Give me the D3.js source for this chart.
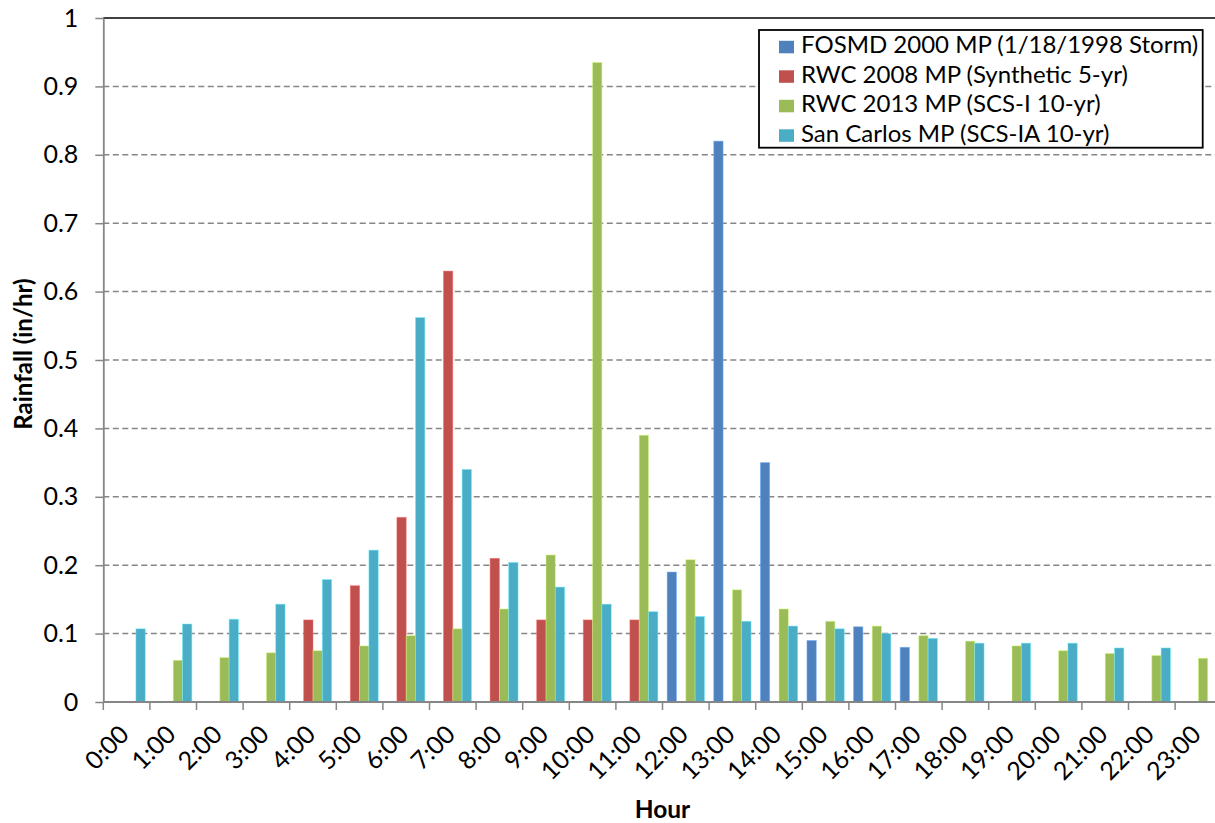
<!DOCTYPE html>
<html>
<head>
<meta charset="utf-8">
<script src="https://cdn.jsdelivr.net/npm/d3@7"></script>
<style>
  html, body { margin: 0; padding: 0; background: #fff; }
  svg { display: block; font-family: Lato, "Open Sans", sans-serif; }
</style>
</head>
<body>
<svg id="chart" width="1215" height="823"></svg>
<script>
// ---- data ----
const hours = ["0:00","1:00","2:00","3:00","4:00","5:00","6:00","7:00","8:00","9:00","10:00","11:00",
               "12:00","13:00","14:00","15:00","16:00","17:00","18:00","19:00","20:00","21:00","22:00","23:00"];
const seriesNames = ["FOSMD 2000 MP (1/18/1998 Storm)", "RWC 2008 MP (Synthetic 5-yr)",
                     "RWC 2013 MP (SCS-I 10-yr)", "San Carlos MP (SCS-IA 10-yr)"];
const seriesColors = ["#4F81BD", "#C0504D", "#9BBB59", "#4BACC6"];
const fosmd = [null,null,null,null,null,null,null,null,null,null,null,null,
               0.19,0.82,0.35,0.09,0.11,0.08,null,null,null,null,null,null];
const rwc2008 = [null,null,null,null,0.12,0.17,0.27,0.63,0.21,0.12,0.12,0.12,
                 null,null,null,null,null,null,null,null,null,null,null,null];
const rwc2013 = [null,0.061,0.065,0.072,0.075,0.082,0.097,0.107,0.136,0.215,0.935,0.39,
                 0.208,0.164,0.136,0.118,0.111,0.097,0.089,0.082,0.075,0.071,0.068,0.064];
const sanCarlos = [0.107,0.114,0.121,0.143,0.179,0.222,0.562,0.34,0.204,0.168,0.143,0.132,
                   0.125,0.118,0.111,0.107,0.100,0.093,0.086,0.086,0.086,0.079,0.079,null];
const yTicks = [0, 0.1, 0.2, 0.3, 0.4, 0.5, 0.6, 0.7, 0.8, 0.9, 1];
const yTitle = "Rainfall (in/hr)";
const xTitle = "Hour";

const allSeries = [fosmd, rwc2008, rwc2013, sanCarlos];

// ---- layout ----
const svg = d3.select("#chart");
const plot = { left: 103.3, right: 1221.7, top: 18, bottom: 702 };
const axisColor = "#868686";
const tickFont = 25, legendFont = 24, titleFont = 24;

const x = d3.scaleBand().domain(hours).range([plot.left, plot.right]).paddingInner(0).paddingOuter(0);
const xs = d3.scaleBand().domain(d3.range(seriesNames.length)).range([0, x.bandwidth()])
  .paddingInner(0).paddingOuter(0.5);
const y = d3.scaleLinear().domain([0, 1]).range([plot.bottom, plot.top]);

// gridlines
svg.append("g").selectAll("line")
  .data(yTicks.filter(d => d > 0 && d < 1))
  .join("line")
  .attr("x1", plot.left).attr("x2", plot.right)
  .attr("y1", d => y(d)).attr("y2", d => y(d))
  .attr("stroke", axisColor).attr("stroke-width", 1.5)
  .attr("stroke-dasharray", "6,3.5");

// top border line
svg.append("line")
  .attr("x1", plot.left).attr("x2", plot.right)
  .attr("y1", y(1)).attr("y2", y(1))
  .attr("stroke", "#000").attr("stroke-width", 1.5);

// bars
const barData = [];
allSeries.forEach((vals, si) => {
  vals.forEach((v, hi) => { if (v != null) barData.push({ si, h: hours[hi], v }); });
});
svg.append("g").selectAll("rect")
  .data(barData)
  .join("rect")
  .attr("x", d => x(d.h) + xs(d.si))
  .attr("width", xs.bandwidth())
  .attr("y", d => y(d.v))
  .attr("height", d => y(0) - y(d.v))
  .attr("fill", d => seriesColors[d.si])
  .attr("stroke", d => d3.color(seriesColors[d.si]).brighter(0.9))
  .attr("stroke-opacity", 0.6)
  .attr("stroke-width", 0.8);

// y axis
const yAxis = d3.axisLeft(y).tickValues(yTicks).tickSize(8).tickSizeOuter(0)
  .tickPadding(17).tickFormat(d3.format("~g"));
const gy = svg.append("g").attr("transform", `translate(${plot.left},0)`).call(yAxis);
gy.select(".domain").attr("stroke", axisColor).attr("stroke-width", 1.8);
gy.selectAll(".tick line").attr("stroke", axisColor).attr("stroke-width", 1.5);
gy.selectAll(".tick text").attr("font-size", tickFont).attr("fill", "#000")
  .attr("font-family", "Lato, sans-serif");

// x axis (ticks at category boundaries)
const gx = svg.append("g").attr("transform", `translate(0,${plot.bottom})`);
gx.append("line").attr("x1", plot.left).attr("x2", plot.right)
  .attr("y1", 0).attr("y2", 0).attr("stroke", axisColor).attr("stroke-width", 1.8);
gx.selectAll("line.tk")
  .data(hours.map(h => x(h)).concat([x.range()[1]]))
  .join("line").attr("class", "tk")
  .attr("x1", d => d).attr("x2", d => d)
  .attr("y1", 0).attr("y2", 8)
  .attr("stroke", axisColor).attr("stroke-width", 1.5);
gx.selectAll("text")
  .data(hours)
  .join("text")
  .attr("transform", d => `translate(${x(d) + x.bandwidth() / 2 + 4},${34}) rotate(-45)`)
  .attr("text-anchor", "end")
  .attr("font-size", tickFont)
  .attr("fill", "#000")
  .text(d => d);

// axis titles
svg.append("text")
  .attr("transform", `translate(32,354) rotate(-90)`)
  .attr("text-anchor", "middle")
  .attr("font-weight", "bold").attr("font-size", titleFont)
  .text(yTitle);
svg.append("text")
  .attr("x", (plot.left + plot.right) / 2).attr("y", 818)
  .attr("text-anchor", "middle")
  .attr("font-weight", "bold").attr("font-size", titleFont + 0.5)
  .text(xTitle);

// legend
const lg = svg.append("g");
lg.append("rect").attr("x", 759).attr("y", 30).attr("width", 443.7).attr("height", 117.7)
  .attr("fill", "#fff").attr("stroke", "#000").attr("stroke-width", 1.8);
const items = lg.selectAll("g.item").data(seriesNames).join("g").attr("class", "item")
  .attr("transform", (d, i) => `translate(779,${53.3 + i * 29.5})`);
items.append("rect").attr("x", 0).attr("y", -12.5).attr("width", 15).attr("height", 12.5)
  .attr("fill", (d, i) => seriesColors[i]);
items.append("text").attr("x", 22).attr("y", 0).attr("font-size", legendFont).attr("fill", "#000")
  .text(d => d);
</script>
</body>
</html>
